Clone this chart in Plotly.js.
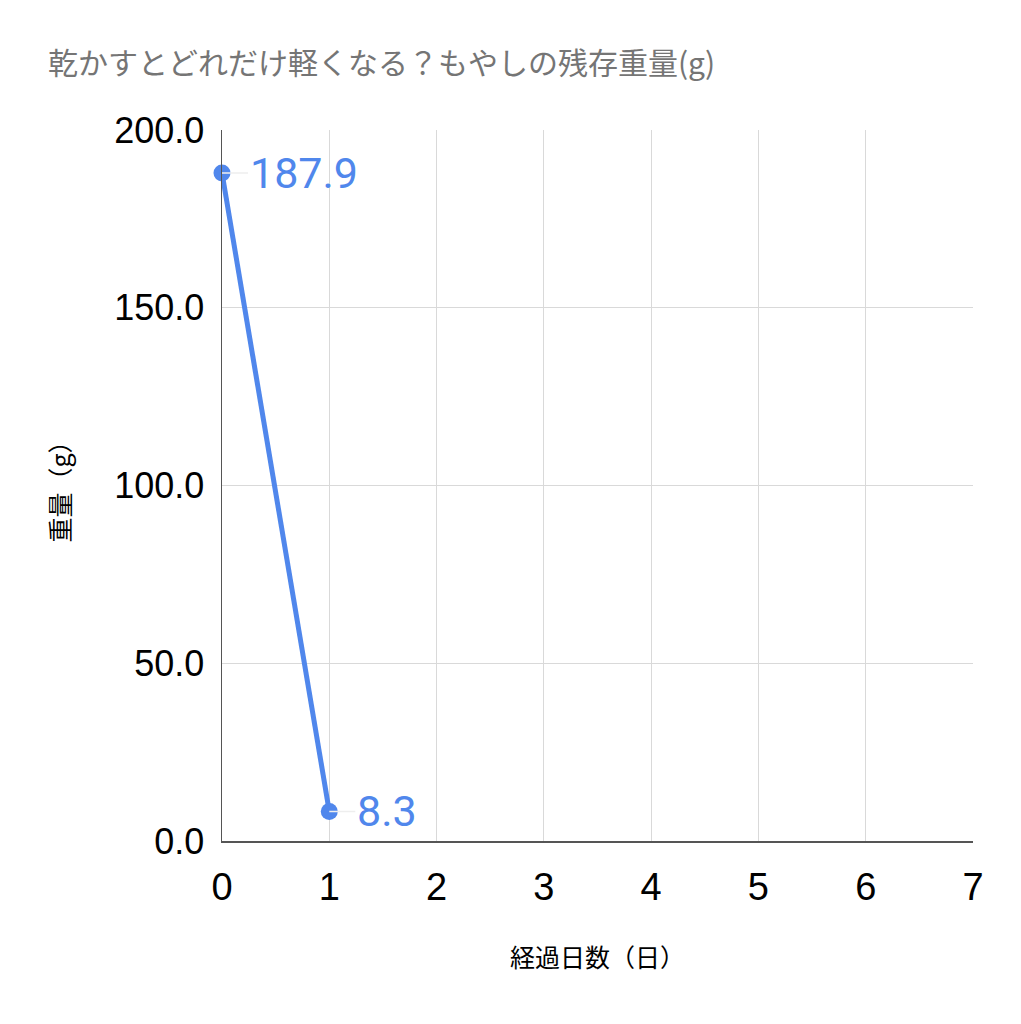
<!DOCTYPE html>
<html>
<head>
<meta charset="utf-8">
<script src="https://cdn.plot.ly/plotly-3.0.1.min.js"></script>
<style>html,body{margin:0;padding:0;background:#fff;}#chart{width:1021px;height:1024px;}</style>
</head>
<body>
<div id="chart"></div>
<script>
const days = [0, 1];
const weights = [187.9, 8.3];
const labels = ["187.9", "8.3"];
const xTicks = [0, 1, 2, 3, 4, 5, 6, 7];
const yTicks = [0, 50, 100, 150, 200];
const yTickText = ["0.0", "50.0", "100.0", "150.0", "200.0"];

const blue = "#5087ec";

const trace = {
  x: days,
  y: weights,
  type: "scatter",
  mode: "lines+markers",
  line: {color: blue, width: 5},
  marker: {color: blue, size: 17},
  cliponaxis: false,
  hoverinfo: "skip"
};

const annotations = days.map((d, i) => ({
  x: d, y: weights[i], xref: "x", yref: "y",
  text: labels[i],
  showarrow: true, arrowhead: 0, arrowwidth: 1.5, arrowcolor: "#eeeeee",
  ax: 26, ay: 0, xanchor: "left", yanchor: "middle",
  font: {family: "Roboto, 'Liberation Sans', sans-serif", size: 43, color: blue}
}));

const layout = {
  width: 1021, height: 1024,
  margin: {l: 222, r: 48, t: 130, b: 183},
  paper_bgcolor: "#fff", plot_bgcolor: "#fff",
  showlegend: false,
  title: {
    text: "乾かすとどれだけ軽くなる？もやしの残存重量(g)",
    x: 0.047, xanchor: "left", y: 0.938, yanchor: "middle",
    font: {family: "'Noto Sans CJK JP', sans-serif", size: 30, color: "#757575"}
  },
  xaxis: {
    range: [0, 7], tickvals: xTicks, ticktext: xTicks.map(String),
    showgrid: true, gridcolor: "#d9d9d9", gridwidth: 1,
    zeroline: false, showline: true, linecolor: "#555", linewidth: 1.5,
    ticks: "", ticklen: 0, ticklabelstandoff: 12,
    tickfont: {family: "'Liberation Sans', Arial, sans-serif", size: 38, color: "#000"},
    title: {text: "経過日数（日）", standoff: 42,
      font: {family: "'Noto Sans CJK JP', sans-serif", size: 25, color: "#000"}}
  },
  yaxis: {
    range: [0, 200], tickvals: yTicks, ticktext: yTickText,
    showgrid: true, gridcolor: "#d9d9d9", gridwidth: 1,
    zeroline: false, showline: true, linecolor: "#555", linewidth: 1.5,
    ticks: "", ticklen: 0, ticklabelstandoff: 9,
    tickfont: {family: "'Liberation Sans', Arial, sans-serif", size: 36, color: "#000"},
    title: {text: "重量（g）", standoff: 36,
      font: {family: "'Noto Sans CJK JP', sans-serif", size: 25, color: "#000"}}
  },
  annotations: annotations
};

Plotly.newPlot("chart", [trace], layout, {displayModeBar: false, staticPlot: true});
</script>
</body>
</html>
